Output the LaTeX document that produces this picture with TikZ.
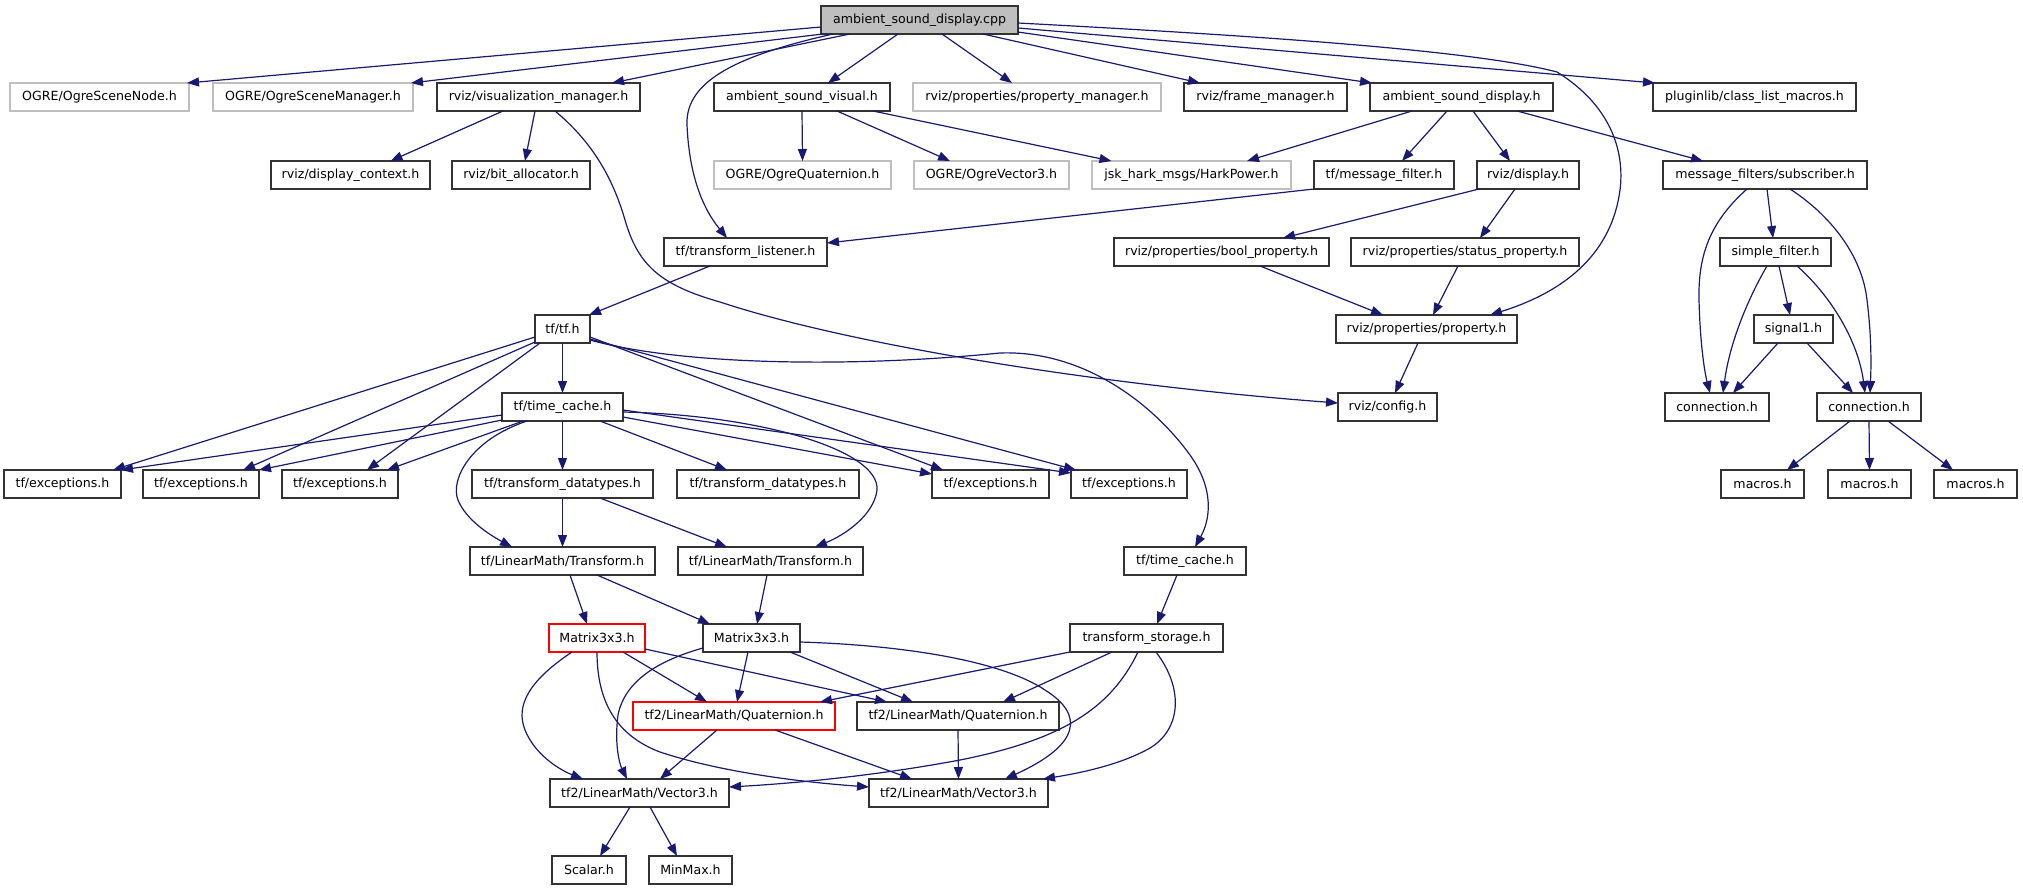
\documentclass[tikz,border=0pt]{standalone}
\usepackage{fontspec}
\setmainfont{DejaVu Sans}
\usetikzlibrary{arrows.meta}
\definecolor{edgecol}{HTML}{191970}
\definecolor{graycol}{HTML}{BFBFBF}
\definecolor{bordcol}{HTML}{333333}
\newcommand\boxfont{\fontsize{12.6}{15}\selectfont}
\tikzset{
  box/.style={draw=bordcol, line width=1.2pt, minimum height=28pt, inner sep=0pt, outer sep=0pt, font=\boxfont, text=black},
  ghost/.style={box, draw=graycol},
  redbox/.style={box, draw=red},
  rootbox/.style={box, fill=graycol},
  edge/.style={draw=edgecol, line width=1.2pt, -{Triangle[length=12pt,width=9pt]}},
}
\begin{document}
\begin{tikzpicture}[x=1pt,y=-1pt]
\useasboundingbox (0,0) rectangle (2023,891);
% row 1
\node[rootbox, minimum width=197pt] (root) at (919.5,20) {ambient\_sound\_display.cpp};
% row 2
\node[ghost, minimum width=179pt] (ogreNode) at (99.5,97) {OGRE/OgreSceneNode.h};
\node[ghost, minimum width=200pt] (ogreMgr) at (313,97) {OGRE/OgreSceneManager.h};
\node[box, minimum width=203pt] (vizMgr) at (538.5,97) {rviz/visualization\_manager.h};
\node[box, minimum width=176pt] (asVisual) at (802,97) {ambient\_sound\_visual.h};
\node[ghost, minimum width=248pt] (propMgr) at (1037,97) {rviz/properties/property\_manager.h};
\node[box, minimum width=163pt] (frameMgr) at (1265.5,97) {rviz/frame\_manager.h};
\node[box, minimum width=183pt] (asDisplay) at (1461.5,97) {ambient\_sound\_display.h};
\node[box, minimum width=203pt] (plugin) at (1754.5,97) {pluginlib/class\_list\_macros.h};
% row 3
\node[box, minimum width=159pt] (dispCtx) at (350.5,175) {rviz/display\_context.h};
\node[box, minimum width=138pt] (bitAlloc) at (521,175) {rviz/bit\_allocator.h};
\node[ghost, minimum width=177pt] (ogreQuat) at (802.5,175) {OGRE/OgreQuaternion.h};
\node[ghost, minimum width=155pt] (ogreVec) at (991.5,175) {OGRE/OgreVector3.h};
\node[ghost, minimum width=199pt] (hark) at (1191.5,175) {jsk\_hark\_msgs/HarkPower.h};
\node[box, minimum width=140pt] (msgFilter) at (1384,175) {tf/message\_filter.h};
\node[box, minimum width=102pt] (display) at (1528,175) {rviz/display.h};
\node[box, minimum width=204pt] (subscriber) at (1765,175) {message\_filters/subscriber.h};
% row 4
\node[box, minimum width=163pt] (tfListener) at (745.5,252) {tf/transform\_listener.h};
\node[box, minimum width=215pt] (boolProp) at (1221.5,252) {rviz/properties/bool\_property.h};
\node[box, minimum width=228pt] (statusProp) at (1465,252) {rviz/properties/status\_property.h};
\node[box, minimum width=111pt] (simpleFilter) at (1775.5,252) {simple\_filter.h};
% row 5
\node[box, minimum width=55pt] (tf) at (562.5,329) {tf/tf.h};
\node[box, minimum width=181pt] (property) at (1426.5,329) {rviz/properties/property.h};
\node[box, minimum width=79pt] (signal) at (1793.5,329) {signal1.h};
% row 6
\node[box, minimum width=121pt] (timeCache) at (562.5,407) {tf/time\_cache.h};
\node[box, minimum width=99pt] (config) at (1387.5,407) {rviz/config.h};
\node[box, minimum width=104pt] (conn1) at (1717,407) {connection.h};
\node[box, minimum width=104pt] (conn2) at (1869,407) {connection.h};
% row 7
\node[box, minimum width=117pt] (exc1) at (62.5,484) {tf/exceptions.h};
\node[box, minimum width=116pt] (exc2) at (201,484) {tf/exceptions.h};
\node[box, minimum width=116pt] (exc3) at (340,484) {tf/exceptions.h};
\node[box, minimum width=181pt] (td1) at (562.5,484) {tf/transform\_datatypes.h};
\node[box, minimum width=182pt] (td2) at (768,484) {tf/transform\_datatypes.h};
\node[box, minimum width=117pt] (exc4) at (990.5,484) {tf/exceptions.h};
\node[box, minimum width=116pt] (exc5) at (1129,484) {tf/exceptions.h};
\node[box, minimum width=83pt] (mac1) at (1762.5,484) {macros.h};
\node[box, minimum width=83pt] (mac2) at (1869.5,484) {macros.h};
\node[box, minimum width=83pt] (mac3) at (1975.5,484) {macros.h};
% row 8
\node[box, minimum width=185pt] (lmT1) at (562.5,561) {tf/LinearMath/Transform.h};
\node[box, minimum width=185pt] (lmT2) at (770.5,561) {tf/LinearMath/Transform.h};
\node[box, minimum width=122pt] (timeCache2) at (1185,561) {tf/time\_cache.h};
% row 9
\node[redbox, minimum width=96pt] (mat1) at (597,638) {Matrix3x3.h};
\node[box, minimum width=97pt] (mat2) at (751.5,638) {Matrix3x3.h};
\node[box, minimum width=153pt] (storage) at (1146.5,638) {transform\_storage.h};
% row 10
\node[redbox, minimum width=202pt] (quat1) at (734,716) {tf2/LinearMath/Quaternion.h};
\node[box, minimum width=202pt] (quat2) at (958,716) {tf2/LinearMath/Quaternion.h};
% row 11
\node[box, minimum width=179pt] (vec1) at (639.5,793) {tf2/LinearMath/Vector3.h};
\node[box, minimum width=179pt] (vec2) at (958.5,793) {tf2/LinearMath/Vector3.h};
% row 12
\node[box, minimum width=74pt] (scalar) at (589,870) {Scalar.h};
\node[box, minimum width=83pt] (minmax) at (690.5,870) {MinMax.h};

% ---- edges from root
\draw[edge] ([yshift=-7pt]root.west) -- ([xshift=-2pt]ogreNode.north east);
\draw[edge] ([xshift=2pt]root.south west) -- ([xshift=-2pt]ogreMgr.north east);
\draw[edge] ([xshift=-69.5pt]root.south) -- ([xshift=73.5pt]vizMgr.north);
\draw[edge] ([xshift=-86.5pt]root.south) .. controls (740,55) and (685,80) .. (687,125) .. controls (689,170) and (700,205) .. ([xshift=-18.5pt]tfListener.north);
\draw[edge] ([xshift=-21.5pt]root.south) -- ([xshift=26pt]asVisual.north);
\draw[edge] ([xshift=22.5pt]root.south) -- ([xshift=-25pt]propMgr.north);
\draw[edge] ([xshift=63.5pt]root.south) -- ([xshift=-65.5pt]frameMgr.north);
\draw[edge] ([yshift=2pt]root.south east) -- ([xshift=-89.5pt]asDisplay.north);
\draw[edge] ([yshift=-8pt]root.east) -- ([xshift=2pt]plugin.north west);
\draw[edge] ([yshift=-3pt]root.east) .. controls (1300,38) and (1480,52) .. (1557,72) .. controls (1610,105) and (1625,150) .. (1620,190) .. controls (1612,250) and (1570,290) .. ([xshift=63.5pt]property.north);
% ---- visualization manager
\draw[edge] ([xshift=-35.5pt]vizMgr.south) -- ([xshift=40pt]dispCtx.north);
\draw[edge] ([xshift=-3.5pt]vizMgr.south) -- ([xshift=4pt]bitAlloc.north);
\draw[edge] ([xshift=16.5pt]vizMgr.south) .. controls (590,140) and (612,175) .. (625,220) .. controls (638,265) and (660,285) .. (720,302) .. controls (850,345) and (1100,385) .. ([yshift=4pt]config.west);
% ---- ambient sound visual
\draw[edge] (asVisual.south) -- (ogreQuat.north);
\draw[edge] ([xshift=35pt]asVisual.south) -- ([xshift=-41.5pt]ogreVec.north);
\draw[edge] ([xshift=71pt]asVisual.south) -- ([xshift=-80pt]hark.north);
% ---- ambient sound display
\draw[edge] ([xshift=-49.5pt]asDisplay.south) -- ([xshift=55.5pt]hark.north);
\draw[edge] ([xshift=-14.5pt]asDisplay.south) -- ([xshift=18pt]msgFilter.north);
\draw[edge] ([xshift=11.5pt]asDisplay.south) -- ([xshift=-18pt]display.north);
\draw[edge] ([xshift=55.5pt]asDisplay.south) -- ([xshift=-62pt]subscriber.north);
\draw[edge] (msgFilter.south west) -- ([yshift=9pt]tfListener.east);
\draw[edge] ([xshift=2pt]display.south west) -- ([xshift=61.5pt]boolProp.north);
\draw[edge] ([xshift=-13pt]display.south) -- ([xshift=15pt]statusProp.north);
\draw[edge] ([xshift=38.5pt]boolProp.south) -- ([xshift=-43.5pt]property.north);
\draw[edge] ([xshift=-7pt]statusProp.south) -- ([xshift=6.5pt]property.north);
\draw[edge] ([xshift=-8.5pt]property.south) -- ([xshift=7.5pt]config.north);
% ---- message filters
\draw[edge] ([xshift=2pt]subscriber.south) -- ([xshift=-2.5pt]simpleFilter.north);
\draw[edge] ([xshift=-18pt]subscriber.south) .. controls (1710,222) and (1698,255) .. (1699,300) .. controls (1700,340) and (1704,370) .. ([xshift=-7pt]conn1.north);
\draw[edge] ([xshift=25pt]subscriber.south) .. controls (1830,215) and (1862,255) .. (1867,300) .. controls (1872,340) and (1871,370) .. ([xshift=1pt]conn2.north);
\draw[edge] ([xshift=3.5pt]simpleFilter.south) -- ([xshift=-3.5pt]signal.north);
\draw[edge] ([xshift=-8.5pt]simpleFilter.south) .. controls (1750,295) and (1730,340) .. ([xshift=6pt]conn1.north);
\draw[edge] ([xshift=21.5pt]simpleFilter.south) .. controls (1830,295) and (1858,340) .. ([xshift=-4pt]conn2.north);
\draw[edge] ([xshift=-15.5pt]signal.south) -- ([xshift=16pt]conn1.north);
\draw[edge] ([xshift=13.5pt]signal.south) -- ([xshift=-16pt]conn2.north);
\draw[edge] ([xshift=-19pt]conn2.south) -- ([xshift=24.5pt]mac1.north);
\draw[edge] (conn2.south) -- (mac2.north);
\draw[edge] ([xshift=19pt]conn2.south) -- ([xshift=-22.5pt]mac3.north);
% ---- tf
\draw[edge] ([xshift=-35.5pt]tfListener.south) -- ([xshift=-1pt]tf.north east);
\draw[edge] (tf.south) -- (timeCache.north);
\draw[edge] ([yshift=-8pt]tf.west) -- ([xshift=50.5pt]exc1.north);
\draw[edge] ([yshift=1pt]tf.south west) -- ([xshift=42pt]exc2.north);
\draw[edge] ([xshift=5pt]tf.south west) -- ([xshift=27pt]exc3.north);
\draw[edge] ([yshift=-8pt]tf.east) -- ([xshift=-47.5pt]exc4.north);
\draw[edge] ([yshift=-10pt]tf.east) -- ([xshift=5pt]exc5.north west);
\draw[edge] ([yshift=-11pt]tf.east) .. controls (680,365) and (850,368) .. (1000,353) .. controls (1080,350) and (1150,400) .. (1190,455) .. controls (1215,490) and (1210,520) .. ([xshift=10pt]timeCache2.north);
% ---- time cache
\draw[edge] ([yshift=-8pt]timeCache.west) -- (exc1.north east);
\draw[edge] ([yshift=1pt]timeCache.south west) -- (exc2.north east);
\draw[edge] ([xshift=21pt]timeCache.south west) -- ([xshift=47pt]exc3.north);
\draw[edge] (timeCache.south) -- (td1.north);
\draw[edge] ([xshift=37.5pt]timeCache.south) -- ([xshift=-41pt]td2.north);
\draw[edge] ([yshift=-10pt]timeCache.east) -- ([yshift=10pt]exc4.west);
\draw[edge] ([yshift=-3pt]timeCache.east) -- ([yshift=11pt]exc5.west);
\draw[edge] ([xshift=25pt]timeCache.south west) .. controls (470,440) and (450,480) .. (458,500) .. controls (466,520) and (490,535) .. ([xshift=-50.5pt]lmT1.north);
\draw[edge] ([yshift=-5pt]timeCache.east) .. controls (760,415) and (880,450) .. (877,490) .. controls (874,515) and (845,535) .. ([xshift=44.5pt]lmT2.north);
% ---- transform datatypes / LinearMath
\draw[edge] (td1.south) -- (lmT1.north);
\draw[edge] ([xshift=37.5pt]td1.south) -- ([xshift=-43.5pt]lmT2.north);
\draw[edge] ([xshift=7.5pt]lmT1.south) -- ([xshift=-10pt]mat1.north);
\draw[edge] ([xshift=34.5pt]lmT1.south) -- ([xshift=-41.5pt]mat2.north);
\draw[edge] ([xshift=-3.5pt]lmT2.south) -- ([xshift=5.5pt]mat2.north);
\draw[edge] ([xshift=-8pt]timeCache2.south) -- ([xshift=10.5pt]storage.north);
% ---- Matrix3x3 (red)
\draw[edge] ([xshift=-25pt]mat1.south) .. controls (530,680) and (515,705) .. (525,730) .. controls (535,755) and (560,770) .. ([xshift=-56.5pt]vec1.north);
\draw[edge] (mat1.south) .. controls (597,700) and (615,735) .. (660,752) .. controls (720,772) and (800,782) .. ([yshift=6pt]vec2.west);
\draw[edge] ([xshift=26pt]mat1.south) -- ([xshift=-27pt]quat1.north);
\draw[edge] ([yshift=3pt]mat1.south east) -- ([xshift=-71pt]quat2.north);
% ---- Matrix3x3
\draw[edge] ([yshift=-10pt]mat2.west) .. controls (660,660) and (625,680) .. (618,715) .. controls (614,745) and (620,765) .. ([xshift=-12.5pt]vec1.north);
\draw[edge] ([xshift=-3.5pt]mat2.south) -- ([xshift=3pt]quat1.north);
\draw[edge] ([xshift=38.5pt]mat2.south) -- ([xshift=-45pt]quat2.north);
\draw[edge] ([yshift=-4pt]mat2.east) .. controls (900,645) and (1000,660) .. (1045,690) .. controls (1085,715) and (1080,745) .. ([xshift=46.5pt]vec2.north);
% ---- transform storage
\draw[edge] (storage.south west) -- ([xshift=86pt]quat1.north);
\draw[edge] ([xshift=-34.5pt]storage.south) -- ([xshift=45pt]quat2.north);
\draw[edge] ([xshift=-8.5pt]storage.south) .. controls (1110,710) and (1060,740) .. (960,760) .. controls (880,775) and (800,783) .. ([yshift=6pt]vec1.east);
\draw[edge] ([xshift=9.5pt]storage.south) .. controls (1185,690) and (1180,730) .. (1150,748) .. controls (1120,765) and (1080,773) .. ([xshift=84.5pt]vec2.north);
% ---- quaternions / vectors
\draw[edge] ([xshift=-17pt]quat1.south) -- ([xshift=20.5pt]vec1.north);
\draw[edge] ([xshift=41pt]quat1.south) -- ([xshift=-46.5pt]vec2.north);
\draw[edge] (quat2.south) -- (vec2.north);
\draw[edge] ([xshift=-9.5pt]vec1.south) -- ([xshift=11pt]scalar.north);
\draw[edge] ([xshift=10.5pt]vec1.south) -- ([xshift=-13.5pt]minmax.north);
\end{tikzpicture}
\end{document}
